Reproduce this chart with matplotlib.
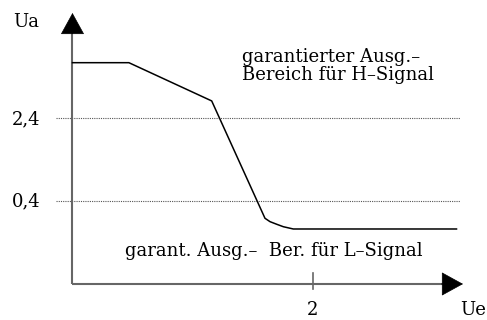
import numpy as np
import matplotlib.pyplot as plt

# transfer characteristic Ua(Ue), in volts
ue = [0.0, 0.47, 1.16, 1.604, 1.646, 1.702, 1.757, 1.84, 3.2]
ua = [3.745, 3.745, 2.82, -0.018, -0.10, -0.163, -0.222, -0.277, -0.277]

# guaranteed output levels
level_vals = [2.4, 0.4]
level_labels = ['2,4', '0,4']
xtick_vals = [2]
xtick_labels = ['2']

text_h = ['garantierter Ausg.–', 'Bereich für H–Signal']
text_l = 'garant. Ausg.–  Ber. für L–Signal'

fig = plt.figure(figsize=(4.87, 3.2), dpi=100)
ax = fig.add_axes([0, 0, 1, 1])
ax.set_xlim(-0.604, 3.454)
ax.set_ylim(-2.478, 5.261)
ax.axis('off')

font = dict(family='DejaVu Serif', fontsize=13, color='black')
axis_col = '#666666'
y0 = -1.607   # where the Ue axis sits
x_end = 3.254
y_end = 4.947

# dotted level lines
for v in level_vals:
    ax.plot([-0.1375, 3.229], [v, v], ls=(0, (1, 1)), color='#555555', lw=0.8)

# axes
ax.plot([0, 0], [y0, y_end - 0.45], color=axis_col, lw=1.5, solid_capstyle='butt')
ax.plot([0, x_end - 0.15], [y0, y0], color=axis_col, lw=1.5, solid_capstyle='butt')
arrow = dict(arrowstyle='-|>,head_length=1,head_width=0.55', mutation_scale=14.4,
             color='black', lw=0.5, shrinkA=0, shrinkB=0)
ax.annotate('', xy=(0, y_end), xytext=(0, y_end - 0.5), arrowprops=arrow)
ax.annotate('', xy=(x_end, y0), xytext=(x_end - 0.18, y0), arrowprops=arrow)

# x ticks
for v, lab in zip(xtick_vals, xtick_labels):
    ax.plot([v, v], [y0 + 0.27, y0 - 0.12], color=axis_col, lw=1.2)
    ax.text(v, -2.357, lab, ha='center', va='baseline', **font)

for v, lab in zip(level_vals, level_labels):
    ax.text(-0.265, v - 0.138, lab, ha='right', va='baseline', **font)

ax.text(-0.496, 4.615, 'Ua', ha='left', va='baseline', **font)
ax.text(3.446, -2.357, 'Ue', ha='right', va='baseline', **font)

# curve
ax.plot(ue, ua, color='black', lw=1.1)

for line, yb in zip(text_h, [3.754, 3.326]):
    ax.text(1.41, yb, line, ha='left', va='baseline', **font)
ax.text(0.4375, -0.93, text_l, ha='left', va='baseline', **font)

fig.savefig('out.png', dpi=100)
